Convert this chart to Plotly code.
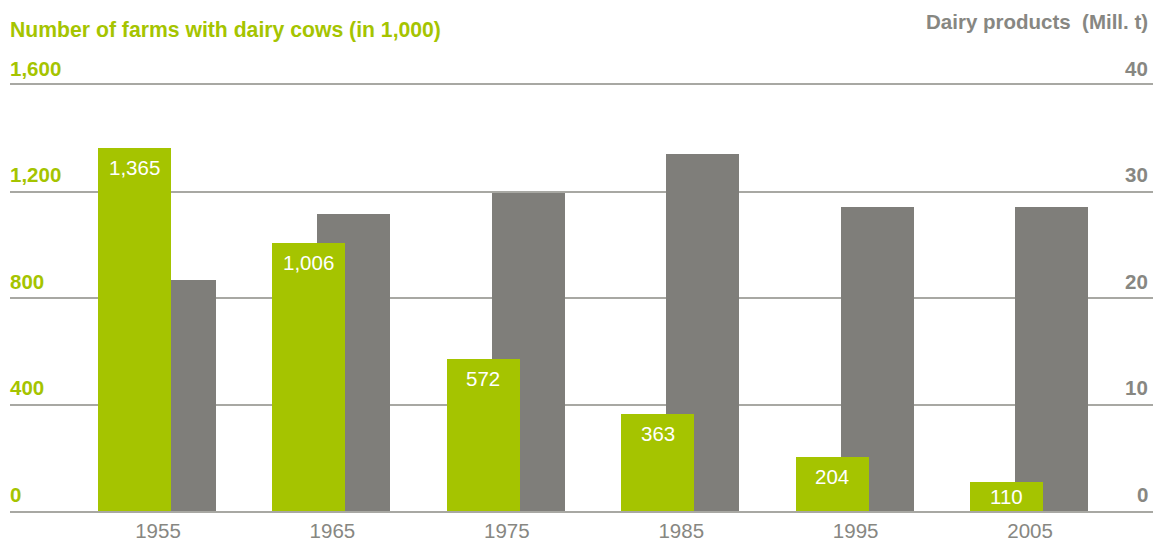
import plotly.graph_objects as go

# ---- data ----
years = ["1955", "1965", "1975", "1985", "1995", "2005"]
farms = [1365, 1006, 572, 363, 204, 110]              # thousands (left axis)
dairy = [21.7, 27.9, 29.9, 33.5, 28.5, 28.5]          # Mill. t (right axis)
farm_labels = ["1,365", "1,006", "572", "363", "204", "110"]
left_ticks = [0, 400, 800, 1200, 1600]
left_ticktext = ["0", "400", "800", "1,200", "1,600"]
right_ticks = [0, 10, 20, 30, 40]
right_ticktext = ["0", "10", "20", "30", "40"]

# ---- styles ----
GREEN = "#a5c400"
GREY_BAR = "#7f7e7a"
GREY_TXT = "#878782"
GRID = "#a8a8a3"
FONT = "Arial, 'Liberation Sans', sans-serif"
W, H = 1153, 540
ML, MR, MT, MB = 10, 0, 85, 29
PLOT_H = H - MT - MB
BAR_W = 0.4186
GREEN_OFF = -0.344
GREY_OFF = -0.086
X_RANGE = [-0.8486, 5.705]
TICK_SHIFT = 17

x = list(range(len(years)))

fig = go.Figure()
fig.add_trace(go.Bar(
    x=x, y=dairy, yaxis="y", marker=dict(color=GREY_BAR, line=dict(width=0)),
    width=BAR_W, offset=GREY_OFF, hoverinfo="skip", showlegend=False))
fig.add_trace(go.Bar(
    x=x, y=farms, yaxis="y2", marker=dict(color=GREEN, line=dict(width=0)),
    width=BAR_W, offset=GREEN_OFF, hoverinfo="skip", showlegend=False))

# value labels inside green bars
px_per_unit = PLOT_H / left_ticks[-1]
for xi, v, t in zip(x, farms, farm_labels):
    shift = -min(19.5, v * px_per_unit / 2)
    fig.add_annotation(
        x=xi + GREEN_OFF + BAR_W / 2, y=v, xref="x", yref="y2",
        text=t, showarrow=False, yanchor="middle", xanchor="center",
        yshift=shift, font=dict(family=FONT, size=20.5, color="white"))

# y-axis tick labels sitting above their gridlines
for v, t in zip(left_ticks, left_ticktext):
    fig.add_annotation(
        x=0, y=v, xref="paper", yref="y2", text=t, showarrow=False,
        xanchor="left", yanchor="middle", yshift=TICK_SHIFT, xshift=-2,
        font=dict(family=FONT, size=20.5, color=GREEN, weight="bold"))
for v, t in zip(right_ticks, right_ticktext):
    fig.add_annotation(
        x=1, y=v, xref="paper", yref="y", text=t, showarrow=False,
        xanchor="right", yanchor="middle", yshift=TICK_SHIFT, xshift=-3,
        font=dict(family=FONT, size=20.5, color=GREY_TXT, weight="bold"))

fig.add_annotation(
    x=0, y=(PLOT_H - (30 - MT)) / PLOT_H, xref="paper", yref="paper",
    text="Number of farms with dairy cows (in 1,000)", showarrow=False,
    xanchor="left", yanchor="middle", xshift=-2,
    font=dict(family=FONT, size=21.2, color=GREEN, weight="bold"))
fig.add_annotation(
    x=1, y=(PLOT_H - (22 - MT)) / PLOT_H, xref="paper", yref="paper",
    text="Dairy products\u00a0\u00a0(Mill. t)", showarrow=False,
    xanchor="right", yanchor="middle", xshift=-3,
    font=dict(family=FONT, size=20.5, color=GREY_TXT, weight="bold"))

fig.update_layout(
    width=W, height=H, margin=dict(l=ML, r=MR, t=MT, b=MB, autoexpand=False),
    paper_bgcolor="white", plot_bgcolor="white",
    barmode="overlay", bargap=0,
    xaxis=dict(range=X_RANGE, tickvals=x, ticktext=years, showgrid=False,
               zeroline=False, showline=True, mirror=True, linecolor=GRID,
               linewidth=2, layer="below traces", ticks="", automargin=False,
               tickfont=dict(family=FONT, size=20.5, color=GREY_TXT),
               fixedrange=True),
    yaxis=dict(range=[0, right_ticks[-1]], tickvals=right_ticks,
               side="right", showgrid=True, gridcolor=GRID, gridwidth=2,
               zeroline=False, showline=False, ticks="", automargin=False,
               showticklabels=False),
    yaxis2=dict(range=[0, left_ticks[-1]], tickvals=left_ticks,
                side="left", overlaying="y", showgrid=False,
                zeroline=False, showline=False, ticks="", automargin=False,
                showticklabels=False),
)

fig.write_html("out.html", config={"displayModeBar": False},
               post_script="document.body.style.margin='0';document.body.style.padding='0';")
